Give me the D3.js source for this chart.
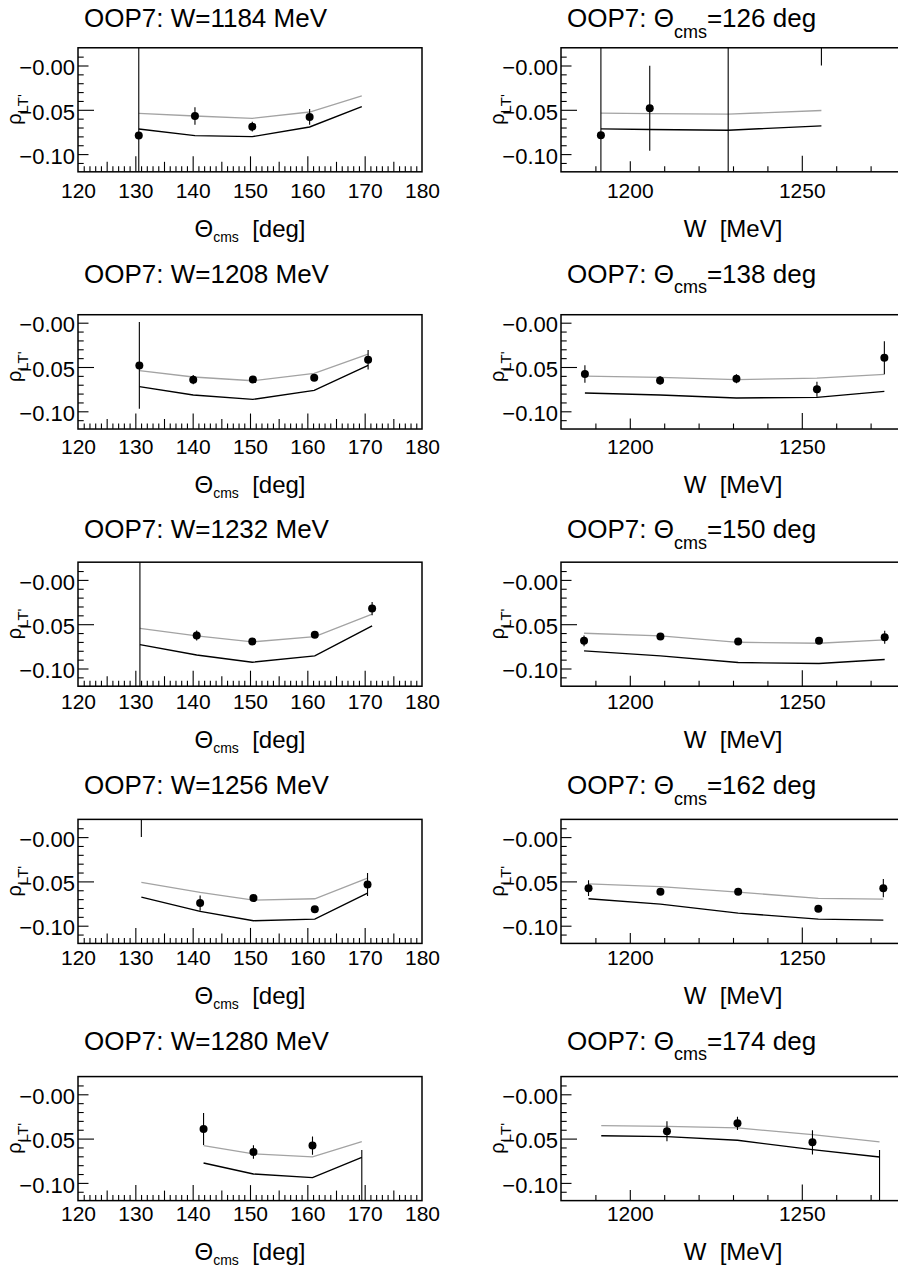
<!DOCTYPE html>
<html>
<head>
<meta charset="utf-8">
<script src="https://cdn.jsdelivr.net/npm/d3@7"></script>
<style>
  html, body { margin: 0; padding: 0; background: #fff; }
  svg { display: block; font-family: "Liberation Sans", Arial, Helvetica, sans-serif; }
</style>
</head>
<body>
<svg id="chart" width="898" height="1274"></svg>
<script>
// ---------- Angular distributions at fixed W (left column) ----------
const energies = [1184, 1208, 1232, 1256, 1280];

const w1184Theta = [130.6, 140.4, 150.4, 160.4];
const w1184Rho   = [-0.079, -0.057, -0.069, -0.058];
const w1184Err   = [0.3, 0.010, 0.0056, 0.009];
const w1184CurveTheta = [130.6, 140.4, 150.4, 160.4, 169.5];
const w1184ModelGray  = [-0.054, -0.057, -0.0596, -0.0525, -0.0344];
const w1184ModelBlack = [-0.0717, -0.0792, -0.0803, -0.0694, -0.0465];

const w1208Theta = [130.7, 140.1, 150.5, 161.2, 170.6];
const w1208Rho   = [-0.0482, -0.0643, -0.064, -0.062, -0.0418];
const w1208Err   = [0.049, 0.0053, 0.003, 0.003, 0.011];
const w1208CurveTheta = [130.7, 140.1, 150.5, 161.2, 170.6];
const w1208ModelGray  = [-0.0542, -0.0613, -0.0655, -0.0572, -0.0354];
const w1208ModelBlack = [-0.0722, -0.0816, -0.0865, -0.0764, -0.0482];

const w1232Theta = [130.8, 140.7, 150.4, 161.3, 171.3];
const w1232Rho   = [0.05, -0.0628, -0.0696, -0.062, -0.0324];
const w1232Err   = [0.3, 0.0056, 0.004, 0.003, 0.0075];
const w1232CurveTheta = [130.8, 140.7, 150.4, 161.3, 171.3];
const w1232ModelGray  = [-0.0546, -0.0632, -0.07, -0.064, -0.0387];
const w1232ModelBlack = [-0.073, -0.0847, -0.0929, -0.0858, -0.0519];

const w1256Theta = [131.05, 141.3, 150.6, 161.3, 170.5];
const w1256Rho   = [0.04, -0.0745, -0.0688, -0.0813, -0.0534];
const w1256Err   = [0.04, 0.0085, 0.003, 0.003, 0.013];
const w1256CurveTheta = [131.05, 141.3, 150.6, 161.3, 170.5];
const w1256ModelGray  = [-0.0512, -0.0625, -0.0711, -0.0696, -0.0463];
const w1256ModelBlack = [-0.0677, -0.0839, -0.0944, -0.0926, -0.0632];

const w1280Theta = [141.9, 150.6, 160.9, 169.5];
const w1280Rho   = [-0.0391, -0.0651, -0.0579, -0.16];
const w1280Err   = [0.018, 0.0077, 0.0103, 0.097];
const w1280CurveTheta = [141.9, 150.6, 160.9, 169.5];
const w1280ModelGray  = [-0.0579, -0.0673, -0.0707, -0.0534];
const w1280ModelBlack = [-0.0775, -0.0899, -0.094, -0.0711];

// ---------- Excitation functions at fixed Theta_cms (right column) ----------
const angles = [126, 138, 150, 162, 174];

const t126W   = [1191.6, 1205.8, 1228.6, 1255.7];
const t126Rho = [-0.0786, -0.0482, 0.05, 0.04];
const t126Err = [0.3, 0.048, 0.3, 0.04];
const t126CurveW     = [1191.6, 1205.8, 1228.6, 1255.7];
const t126ModelGray  = [-0.0538, -0.0543, -0.0549, -0.0508];
const t126ModelBlack = [-0.0715, -0.0722, -0.073, -0.0681];

const t138W   = [1186.95, 1208.8, 1231.0, 1254.4, 1274.0];
const t138Rho = [-0.0579, -0.0651, -0.0632, -0.0752, -0.0395];
const t138Err = [0.01, 0.005, 0.005, 0.0085, 0.0186];
const t138CurveW     = [1186.95, 1208.8, 1231.0, 1254.4, 1274.0];
const t138ModelGray  = [-0.0602, -0.0617, -0.0643, -0.0625, -0.0583];
const t138ModelBlack = [-0.0794, -0.0816, -0.085, -0.0843, -0.0775];

const t150W   = [1186.7, 1208.9, 1231.5, 1255.0, 1274.1];
const t150Rho = [-0.0688, -0.064, -0.0696, -0.0688, -0.0647];
const t150Err = [0.006, 0.003, 0.003, 0.003, 0.0073];
const t150CurveW     = [1186.7, 1208.9, 1231.5, 1255.0, 1274.1];
const t150ModelGray  = [-0.0602, -0.0632, -0.0704, -0.0715, -0.0677];
const t150ModelBlack = [-0.0801, -0.0858, -0.0933, -0.0944, -0.0899];

const t162W   = [1188.0, 1208.9, 1231.5, 1254.8, 1273.7];
const t162Rho = [-0.0576, -0.0617, -0.0617, -0.0809, -0.0576];
const t162Err = [0.0088, 0.003, 0.003, 0.003, 0.0103];
const t162CurveW     = [1188.0, 1208.9, 1231.5, 1254.8, 1273.7];
const t162ModelGray  = [-0.0527, -0.056, -0.0621, -0.0692, -0.07];
const t162ModelBlack = [-0.0696, -0.0756, -0.0858, -0.0926, -0.0937];

const t174W   = [1210.8, 1231.3, 1253.1, 1272.6];
const t174Rho = [-0.0418, -0.0327, -0.0542, -0.16];
const t174Err = [0.0113, 0.0075, 0.0137, 0.097];
const t174CurveW     = [1191.7, 1210.8, 1231.3, 1253.1, 1272.6];
const t174ModelGray  = [-0.0354, -0.0361, -0.038, -0.0455, -0.0538];
const t174ModelBlack = [-0.0467, -0.0478, -0.0519, -0.0625, -0.0707];

// ---------- Axis ranges and tick labels ----------
const rhoBottom = -0.12;
const rhoTopByRow = [0.02, 0.009, 0.02, 0.02, 0.02];
const rhoTickValues = [0, -0.05, -0.10];
const rhoTickLabels = ["\u22120.00", "\u22120.05", "\u22120.10"];
const thetaDomain = [120, 180];
const thetaTickValues = [120, 130, 140, 150, 160, 170, 180];
const thetaTickLabels = ["120", "130", "140", "150", "160", "170", "180"];
const wDomain = [1180, 1280];
const wTickValues = [1200, 1250];
const wTickLabels = ["1200", "1250"];

// ---------- Panel assembly ----------
const leftPanels = [
  [w1184Theta, w1184Rho, w1184Err, w1184CurveTheta, w1184ModelGray, w1184ModelBlack],
  [w1208Theta, w1208Rho, w1208Err, w1208CurveTheta, w1208ModelGray, w1208ModelBlack],
  [w1232Theta, w1232Rho, w1232Err, w1232CurveTheta, w1232ModelGray, w1232ModelBlack],
  [w1256Theta, w1256Rho, w1256Err, w1256CurveTheta, w1256ModelGray, w1256ModelBlack],
  [w1280Theta, w1280Rho, w1280Err, w1280CurveTheta, w1280ModelGray, w1280ModelBlack]
];
const rightPanels = [
  [t126W, t126Rho, t126Err, t126CurveW, t126ModelGray, t126ModelBlack],
  [t138W, t138Rho, t138Err, t138CurveW, t138ModelGray, t138ModelBlack],
  [t150W, t150Rho, t150Err, t150CurveW, t150ModelGray, t150ModelBlack],
  [t162W, t162Rho, t162Err, t162CurveW, t162ModelGray, t162ModelBlack],
  [t174W, t174Rho, t174Err, t174CurveW, t174ModelGray, t174ModelBlack]
];

// ---------- Layout ----------
const ROW_PITCH = 257.2;     // vertical spacing of the plot frames
const TEXT_PITCH = 255.7;    // vertical spacing of titles and x-axis texts
const ZERO_Y0 = 65.5;        // pixel row of rho = 0 in the first row
const PX_PER_UNIT = 886;     // vertical pixels per unit of rho
const FRAME_W = 344;
const COL_X = [78, 561];
const TITLE_Y0 = 27, TICKLABEL_Y0 = 198, XTITLE_Y0 = 237;

const svg = d3.select("#chart");
const defs = svg.append("defs");

function drawPanel(col, row, arrays) {
  const [xs, vals, errs, cxs, gray, black] = arrays;
  const x0 = COL_X[col];
  const zeroY = ZERO_Y0 + row * ROW_PITCH;
  const top = rhoTopByRow[row];
  const x = d3.scaleLinear().domain(col === 0 ? thetaDomain : wDomain).range([x0, x0 + FRAME_W]);
  const y = d3.scaleLinear().domain([rhoBottom, top])
    .range([zeroY - rhoBottom * PX_PER_UNIT, zeroY - top * PX_PER_UNIT]);
  const yB = y(rhoBottom), yT = y(top);
  const textShift = row * TEXT_PITCH;

  const g = svg.append("g");
  const clipId = `clip-${col}-${row}`;
  defs.append("clipPath").attr("id", clipId)
    .append("rect").attr("x", x0).attr("y", yT).attr("width", FRAME_W).attr("height", yB - yT);

  // x-axis ticks (pointing inward from the bottom edge)
  const xAxisG = g.append("g").attr("transform", `translate(0,${yB})`);
  function xTicks(values, len) {
    const a = d3.axisBottom(x).tickValues(values).tickSize(-len).tickFormat("");
    const s = xAxisG.append("g").call(a);
    s.select(".domain").remove();
    s.selectAll("line").attr("stroke", "#000").attr("stroke-width", 1.1);
  }
  let labelVals, labelText;
  if (col === 0) {
    xTicks(d3.range(121, 180, 1).filter(v => v % 5 !== 0), 5.5);
    xTicks(d3.range(125, 180, 10), 10);
    xTicks(thetaTickValues.slice(1, -1), 15.5);
    labelVals = thetaTickValues; labelText = thetaTickLabels;
  } else {
    xTicks([1190, 1210, 1220, 1230, 1240, 1260, 1270], 5.5);
    xTicks([1200], 10.5);
    xTicks([1250], 16);
    labelVals = wTickValues; labelText = wTickLabels;
  }
  const xl = d3.axisBottom(x).tickValues(labelVals).tickSize(0)
    .tickFormat((d, i) => labelText[i]);
  const xlG = g.append("g").attr("transform", `translate(0,${TICKLABEL_Y0 + textShift})`).call(xl);
  xlG.select(".domain").remove();
  xlG.selectAll("text").attr("y", 0).attr("dy", null)
    .attr("font-size", 21).attr("fill", "#000")
    .attr("font-family", "Liberation Sans, Arial, sans-serif");

  // y-axis ticks (pointing inward from the left edge)
  const yAxisG = g.append("g").attr("transform", `translate(${x0},0)`);
  function yTicks(values, len) {
    const a = d3.axisLeft(y).tickValues(values).tickSize(-len).tickFormat("");
    const s = yAxisG.append("g").call(a);
    s.select(".domain").remove();
    s.selectAll("line").attr("stroke", "#000").attr("stroke-width", 1.1);
  }
  const minorRho = d3.range(-11, Math.floor(top * 100 + 1e-6) + 1)
    .map(k => k / 100).filter(v => v > rhoBottom && v < top && Math.abs(v * 100) % 5 > 1e-6);
  yTicks(minorRho, 5.7);
  yTicks([0, -0.10], 10.5);
  yTicks([-0.05], 16);
  const yl = d3.axisLeft(y).tickValues(rhoTickValues).tickSize(0).tickPadding(3)
    .tickFormat((d, i) => rhoTickLabels[i]);
  const ylG = yAxisG.append("g").call(yl);
  ylG.select(".domain").remove();
  ylG.selectAll("text").attr("font-size", 22).attr("fill", "#000").attr("dy", "0.42em")
    .attr("font-family", "Liberation Sans, Arial, sans-serif");

  // frame
  g.append("rect").attr("x", x0).attr("y", yT).attr("width", FRAME_W).attr("height", yB - yT)
    .attr("fill", "none").attr("stroke", "#000").attr("stroke-width", 1.5);

  // model curves and data points
  const plot = g.append("g").attr("clip-path", `url(#${clipId})`);
  const line = d3.line().x(d => x(d[0])).y(d => y(d[1]));
  plot.append("path").datum(cxs.map((v, i) => [v, gray[i]]))
    .attr("d", line).attr("fill", "none").attr("stroke", "#a3a3a3").attr("stroke-width", 1.3);
  plot.append("path").datum(cxs.map((v, i) => [v, black[i]]))
    .attr("d", line).attr("fill", "none").attr("stroke", "#000").attr("stroke-width", 1.4);

  const pts = xs.map((v, i) => ({ x: v, y: vals[i], e: errs[i] }));
  plot.selectAll("line.err").data(pts).enter().append("line").attr("class", "err")
    .attr("x1", d => x(d.x)).attr("x2", d => x(d.x))
    .attr("y1", d => y(d.y - d.e)).attr("y2", d => y(d.y + d.e))
    .attr("stroke", "#000").attr("stroke-width", 1.1);
  plot.selectAll("circle").data(pts).enter().append("circle")
    .attr("cx", d => x(d.x)).attr("cy", d => y(d.y)).attr("r", 4).attr("fill", "#000");

  // y-axis title: rho_LT'
  const yLab = g.append("text")
    .attr("transform", `translate(${x0 - 57},${zeroY + 44}) rotate(-90)`)
    .attr("text-anchor", "middle").attr("fill", "#000");
  yLab.append("tspan").attr("font-size", 20).text("\u03c1");
  yLab.append("tspan").attr("font-size", 15).attr("dy", 7).text("LT'");

  // x-axis title
  const xLab = g.append("text")
    .attr("x", x0 + FRAME_W / 2).attr("y", XTITLE_Y0 + textShift)
    .attr("text-anchor", "middle").attr("fill", "#000").attr("font-size", 24);
  if (col === 0) {
    xLab.append("tspan").text("\u0398");
    xLab.append("tspan").attr("font-size", 14).attr("dy", 5).text("cms");
    xLab.append("tspan").attr("dy", -5).text("\u00a0\u00a0[deg]");
  } else {
    xLab.append("tspan").text("W\u00a0\u00a0[MeV]");
  }

  // panel title
  const title = g.append("text")
    .attr("x", x0 + 6).attr("y", TITLE_Y0 + textShift)
    .attr("fill", "#000").attr("font-size", 26);
  if (col === 0) {
    title.text(`OOP7: W=${energies[row]} MeV`);
  } else {
    title.append("tspan").text("OOP7: \u0398");
    title.append("tspan").attr("font-size", 18).attr("dy", 10.5).text("cms");
    title.append("tspan").attr("dy", -10.5).text(`=${angles[row]} deg`);
  }
}

leftPanels.forEach((arr, r) => drawPanel(0, r, arr));
rightPanels.forEach((arr, r) => drawPanel(1, r, arr));
</script>
</body>
</html>
